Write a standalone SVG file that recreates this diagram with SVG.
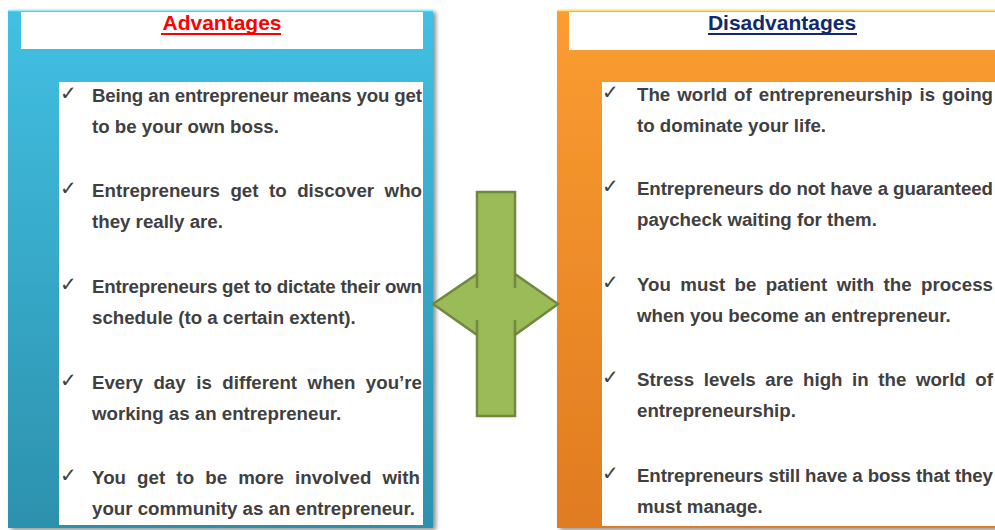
<svg xmlns="http://www.w3.org/2000/svg" width="995" height="530" viewBox="0 0 995 530">
  <defs>
    <linearGradient id="blueGrad" x1="0" y1="0" x2="0" y2="1">
      <stop offset="0" stop-color="#42c0e3"/>
      <stop offset="1" stop-color="#2c91ad"/>
    </linearGradient>
    <linearGradient id="orangeGrad" x1="0" y1="0" x2="0" y2="1">
      <stop offset="0" stop-color="#fa9d31"/>
      <stop offset="1" stop-color="#e07b21"/>
    </linearGradient>
    <filter id="shadow" x="-5%" y="-5%" width="110%" height="110%">
      <feGaussianBlur in="SourceAlpha" stdDeviation="2"/>
      <feOffset dx="3" dy="2" result="b"/>
      <feComponentTransfer><feFuncA type="linear" slope="0.45"/></feComponentTransfer>
      <feMerge><feMergeNode/><feMergeNode in="SourceGraphic"/></feMerge>
    </filter>
  </defs>
  <style>
    .body { font-family: "Liberation Sans", Arial, sans-serif; font-size: 18.7px; font-weight: bold; fill: #404040; }
    .chk { font-family: "DejaVu Sans", sans-serif; font-size: 20px; font-weight: normal; fill: #404040; }
    .head { font-family: "Liberation Sans", Arial, sans-serif; font-size: 21px; font-weight: bold; text-anchor: middle; }
    .box { fill: #ffffff; }
  </style>
  <rect width="995" height="530" fill="#ffffff"/>

  <g id="advantages">
    <rect x="8" y="10" width="425" height="518" fill="url(#blueGrad)" filter="url(#shadow)"/>
    <line x1="8" y1="10.5" x2="433" y2="10.5" stroke="#8ef0ff" stroke-width="1.5"/>
    <rect class="box" x="21" y="12" width="402" height="37"/>
    <text class="head" x="222" y="30" fill="#ff0000">Advantages</text>
    <rect x="161" y="33" width="120" height="2" fill="#ff0000"/>
    <rect class="box" x="59" y="82" width="364" height="443"/>
    <g class="body">
      <text class="chk" x="60" y="100">✓</text>
      <text x="92" y="102" textLength="330" lengthAdjust="spacing">Being an entrepreneur means you get</text>
      <text x="92" y="133">to be your own boss.</text>
      <text class="chk" x="60" y="195">✓</text>
      <text x="92" y="197" word-spacing="5.3" textLength="330" lengthAdjust="spacing">Entrepreneurs get to discover who</text>
      <text x="92" y="228">they really are.</text>
      <text class="chk" x="60" y="291">✓</text>
      <text x="92" y="293" textLength="330" lengthAdjust="spacing">Entrepreneurs get to dictate their own</text>
      <text x="92" y="324">schedule (to a certain extent).</text>
      <text class="chk" x="60" y="387">✓</text>
      <text x="92" y="389" word-spacing="5.3" textLength="330" lengthAdjust="spacing">Every day is different when you’re</text>
      <text x="92" y="420">working as an entrepreneur.</text>
      <text class="chk" x="60" y="482">✓</text>
      <text x="92" y="484" word-spacing="5.8" textLength="328" lengthAdjust="spacing">You get to be more involved with</text>
      <text x="92" y="515">your community as an entrepreneur.</text>
    </g>
  </g>

  <g id="disadvantages">
    <rect x="557" y="10" width="445" height="518" fill="url(#orangeGrad)" filter="url(#shadow)"/>
    <line x1="557" y1="10.5" x2="995" y2="10.5" stroke="#ffe070" stroke-width="1.5"/>
    <rect class="box" x="569" y="12" width="426" height="38"/>
    <text class="head" x="782" y="30" fill="#102a6b">Disadvantages</text>
    <rect x="708" y="33" width="149" height="2" fill="#102a6b"/>
    <rect class="box" x="602" y="82" width="393" height="444"/>
    <g class="body">
      <text class="chk" x="602" y="99">✓</text>
      <text x="637" y="101" word-spacing="1.8" textLength="356" lengthAdjust="spacing">The world of entrepreneurship is going</text>
      <text x="637" y="132">to dominate your life.</text>
      <text class="chk" x="602" y="193">✓</text>
      <text x="637" y="195" textLength="356" lengthAdjust="spacing">Entrepreneurs do not have a guaranteed</text>
      <text x="637" y="226">paycheck waiting for them.</text>
      <text class="chk" x="602" y="289">✓</text>
      <text x="637" y="291" word-spacing="4.1" textLength="356" lengthAdjust="spacing">You must be patient with the process</text>
      <text x="637" y="322">when you become an entrepreneur.</text>
      <text class="chk" x="602" y="384">✓</text>
      <text x="637" y="386" word-spacing="4.4" textLength="356" lengthAdjust="spacing">Stress levels are high in the world of</text>
      <text x="637" y="417">entrepreneurship.</text>
      <text class="chk" x="602" y="480">✓</text>
      <text x="637" y="482" textLength="356" lengthAdjust="spacing">Entrepreneurs still have a boss that they</text>
      <text x="637" y="513">must manage.</text>
    </g>
  </g>

  <g id="connectors">
    <path d="M477,192 L515,192 L515,274 L558,304 L515,335 L515,416 L477,416 L477,335 L433,304 L477,274 Z" fill="#9bbb59" stroke="#71893f" stroke-width="2.5" stroke-linejoin="miter"/>
    <path d="M477,274 V288 M477,320 V335 M515,274 V288 M515,320 V335" fill="none" stroke="#71893f" stroke-width="2.5"/>
  </g>
</svg>
